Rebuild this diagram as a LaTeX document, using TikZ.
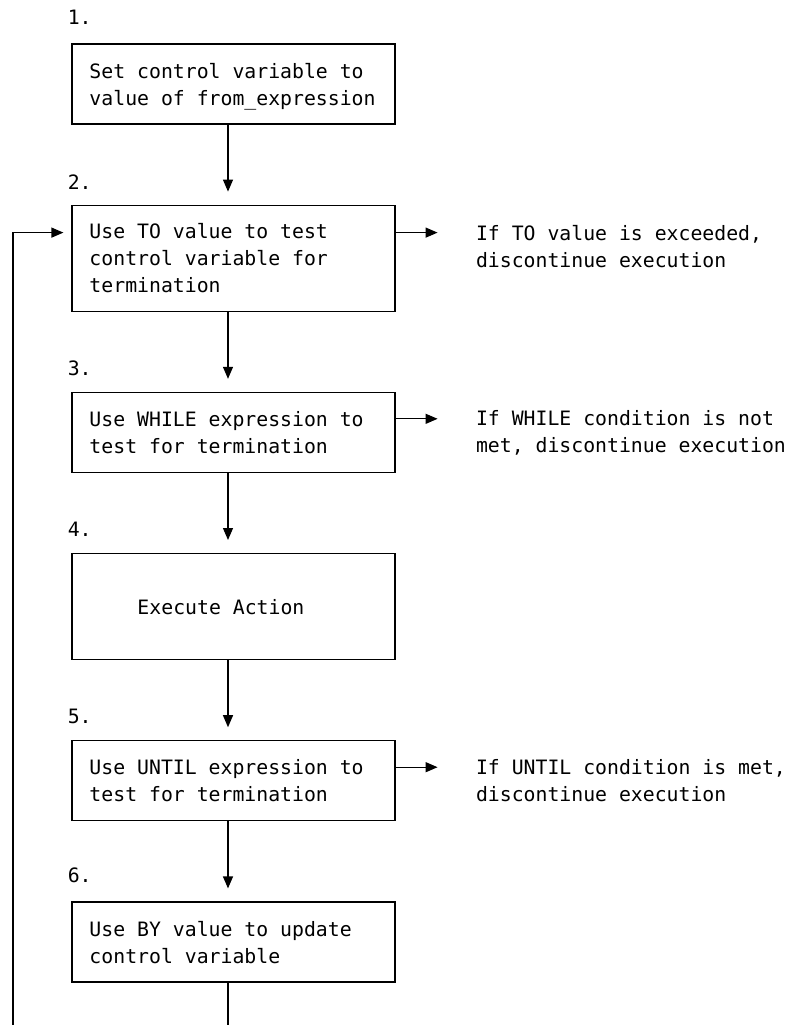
\documentclass[tikz,border=0pt]{standalone}
\usepackage{fontspec}
\setmonofont{DejaVu Sans Mono}
\usetikzlibrary{positioning,arrows.meta}

\begin{document}
\begin{tikzpicture}[
  x=0.5pt, y=-0.5pt,
  node distance=40pt,
  font=\ttfamily\fontsize{9.9pt}{13.5pt}\selectfont,
  box/.style={draw, line width=0.6pt, align=left, text width=144pt, inner xsep=8.75pt, inner ysep=0pt, minimum height=40pt,
    execute at begin node={\spaceskip=\fontdimen2\font\xspaceskip=\fontdimen2\font},
    execute at end node={\endgraf\kern-\prevdepth}},
  tallbox/.style={box, minimum height=53pt},
  num/.style={anchor=west, inner sep=0pt},
  note/.style={align=left, inner sep=0pt},
  arrow/.style={-{Triangle[length=6pt,width=5pt]}, line width=0.6pt},
  down/.style={arrow, shorten >=6.5pt}
]
\useasboundingbox (0,0) rectangle (788,1025);
% main column
\node[box] (init) at (233.5,84) {Set control variable to\\value of from\_expression};
\node[tallbox, below=of init] (toTest) {Use TO value to test\\control variable for\\termination};
\node[box, below=of toTest] (whileTest) {Use WHILE expression to\\test for termination};
\node[tallbox, below=of whileTest] (action) {\hspace*{24pt}Execute Action};
\node[box, below=of action] (untilTest) {Use UNTIL expression to\\test for termination};
\node[box, below=of untilTest] (update) {Use BY value to update\\control variable};
% step numbers
\node[num] at ([xshift=-2pt,yshift=13pt]init.north west) {1.};
\node[num] at ([xshift=-2pt,yshift=11pt]toTest.north west) {2.};
\node[num] at ([xshift=-2pt,yshift=12pt]whileTest.north west) {3.};
\node[num] at ([xshift=-2pt,yshift=12pt]action.north west) {4.};
\node[num] at ([xshift=-2pt,yshift=12pt]untilTest.north west) {5.};
\node[num] at ([xshift=-2pt,yshift=13pt]update.north west) {6.};
% exit notes
\node[note, right=40pt of toTest, yshift=6pt] (toNote) {If TO value is exceeded,\\discontinue execution};
\node[note, right=40pt of whileTest] (whileNote) {If WHILE condition is not\\met, discontinue execution};
\node[note, right=40pt of untilTest] (untilNote) {If UNTIL condition is met,\\discontinue execution};
% flow
\draw[down] ([xshift=-2.75pt]init.south) -- ([xshift=-2.75pt]toTest.north);
\draw[down] ([xshift=-2.75pt]toTest.south) -- ([xshift=-2.75pt]whileTest.north);
\draw[down] ([xshift=-2.75pt]whileTest.south) -- ([xshift=-2.75pt]action.north);
\draw[down] ([xshift=-2.75pt]action.south) -- ([xshift=-2.75pt]untilTest.north);
\draw[down] ([xshift=-2.75pt]untilTest.south) -- ([xshift=-2.75pt]update.north);
\draw[arrow, shorten >=19pt] ([yshift=-14pt]toTest.north east) -- ([yshift=-14pt]toTest.north east -| toNote.west);
\draw[arrow, shorten >=19pt] ([yshift=-13.5pt]whileTest.north east) -- ([yshift=-13.5pt]whileTest.north east -| whileNote.west);
\draw[arrow, shorten >=19pt] ([yshift=-13.5pt]untilTest.north east) -- ([yshift=-13.5pt]untilTest.north east -| untilNote.west);
% loop back
\coordinate (loopFoot) at (13,1025);
\coordinate (tail) at ([xshift=-2.75pt]update.south |- loopFoot);
\draw[line width=0.6pt] ([xshift=-2.75pt]update.south) -- (tail);
\draw[arrow, shorten >=4pt] (loopFoot) |- ([yshift=-14pt]toTest.north west);
\end{tikzpicture}
\end{document}
